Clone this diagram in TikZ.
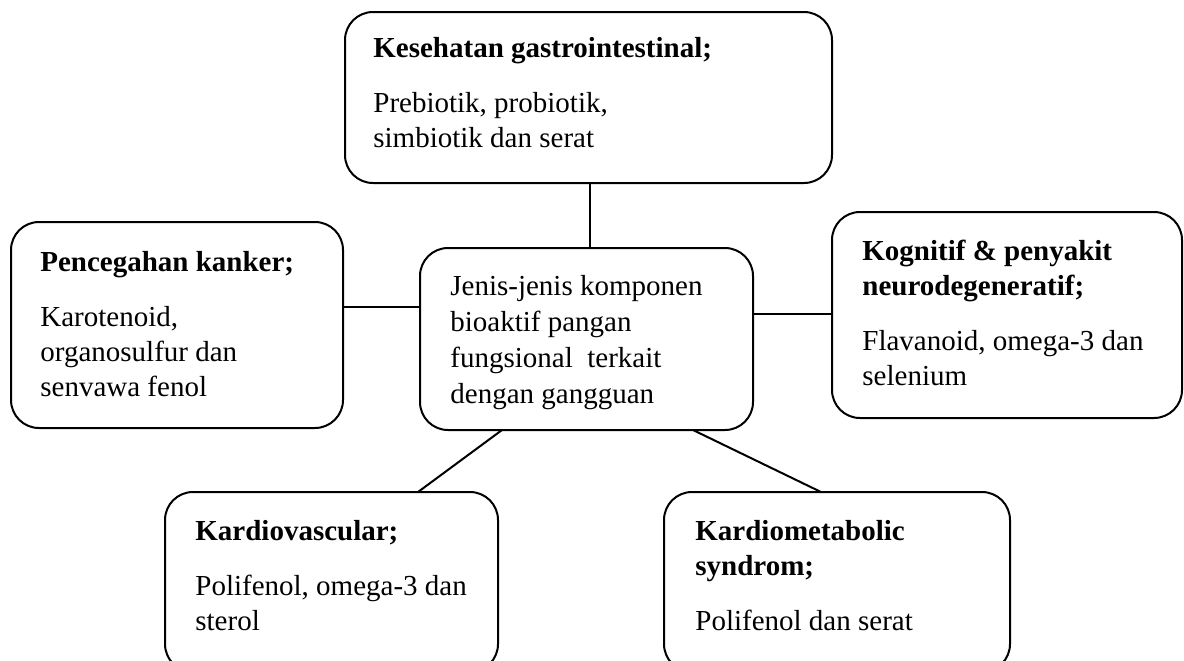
\documentclass[tikz,border=0pt]{standalone}
\usepackage{fontspec}
\setmainfont{Liberation Serif}
\tikzset{
topic/.style={
    rectangle,
    draw=black,
    line width=1pt,
    rounded corners=14pt,
    inner sep=0pt,
    outer sep=0pt
},
info/.style={
    anchor=base west,
    inner sep=0pt,
    font=\fontsize{14.5pt}{17.5pt}\selectfont
},
link/.style={line width=1pt}}

\begin{document}
\begin{tikzpicture}[x=0.5pt, y=-0.5pt]

    \useasboundingbox (0,0) rectangle (1184,660);
    \clip (0,0) rectangle (1184,660);

    % boxes
    \node[topic, minimum width=243.5pt, minimum height=85.5pt] (gastro) at (588.5,97.5) {};
    \node[topic, minimum width=166pt, minimum height=103pt] (cancer) at (177,325) {};
    \node[topic, minimum width=166.5pt, minimum height=91pt] (komponen) at (586.5,339) {};
    \node[topic, minimum width=175pt, minimum height=103pt] (neuro) at (1007,315) {};
    \node[topic, minimum width=166.5pt, minimum height=90pt] (cardio) at (331.5,582) {};
    \node[topic, minimum width=173pt, minimum height=90pt] (metab) at (837,582) {};

    % texts
    \node[info] (gastro-text) at ([xshift=14pt,yshift=-22.5pt]gastro.north west)
        {\parbox[t]{200pt}{\raggedright\textbf{Kesehatan gastrointestinal;}\par\vspace{10pt}Prebiotik, probiotik,\\simbiotik dan serat}};
    \node[info] (cancer-text) at ([xshift=14.5pt,yshift=-24.5pt]cancer.north west)
        {\parbox[t]{150pt}{\raggedright\textbf{Pencegahan kanker;}\par\vspace{10pt}Karotenoid,\\organosulfur dan\\senvawa fenol}};
    \node[info] (komponen-text) at ([xshift=15pt,yshift=-23.5pt]komponen.north west)
        {\parbox[t]{150pt}{\fontsize{14.5pt}{18pt}\selectfont\raggedright Jenis-jenis komponen\\bioaktif pangan\\fungsional\ \ terkait\\dengan gangguan}};
    \node[info] (neuro-text) at ([xshift=15pt,yshift=-24pt]neuro.north west)
        {\parbox[t]{160pt}{\raggedright\textbf{Kognitif \& penyakit}\\\textbf{neurodegeneratif;}\par\vspace{10pt}Flavanoid, omega-3 dan\\selenium}};
    \node[info] (cardio-text) at ([xshift=15pt,yshift=-24pt]cardio.north west)
        {\parbox[t]{150pt}{\raggedright\textbf{Kardiovascular;}\par\vspace{10pt}Polifenol, omega-3 dan\\sterol}};
    \node[info] (metab-text) at ([xshift=15.5pt,yshift=-24pt]metab.north west)
        {\parbox[t]{150pt}{\raggedright\textbf{Kardiometabolic}\\\textbf{syndrom;}\par\vspace{10pt}Polifenol dan serat}};

    % edges
    \draw[link] ([xshift=1.75pt]komponen.north) -- ([xshift=1.75pt]komponen.north |- gastro.south);
    \draw[link] ([yshift=16pt]komponen.west) -- ([yshift=16pt]komponen.west -| cancer.east);
    \draw[link] ([yshift=12.5pt]komponen.east) -- ([yshift=12.5pt]komponen.east -| neuro.west);
    \draw[link] ([xshift=-42.25pt]komponen.south) -- ([xshift=43.25pt]cardio.north);
    \draw[link] ([xshift=53.25pt]komponen.south) -- ([xshift=-8pt]metab.north);

\end{tikzpicture}
\end{document}
